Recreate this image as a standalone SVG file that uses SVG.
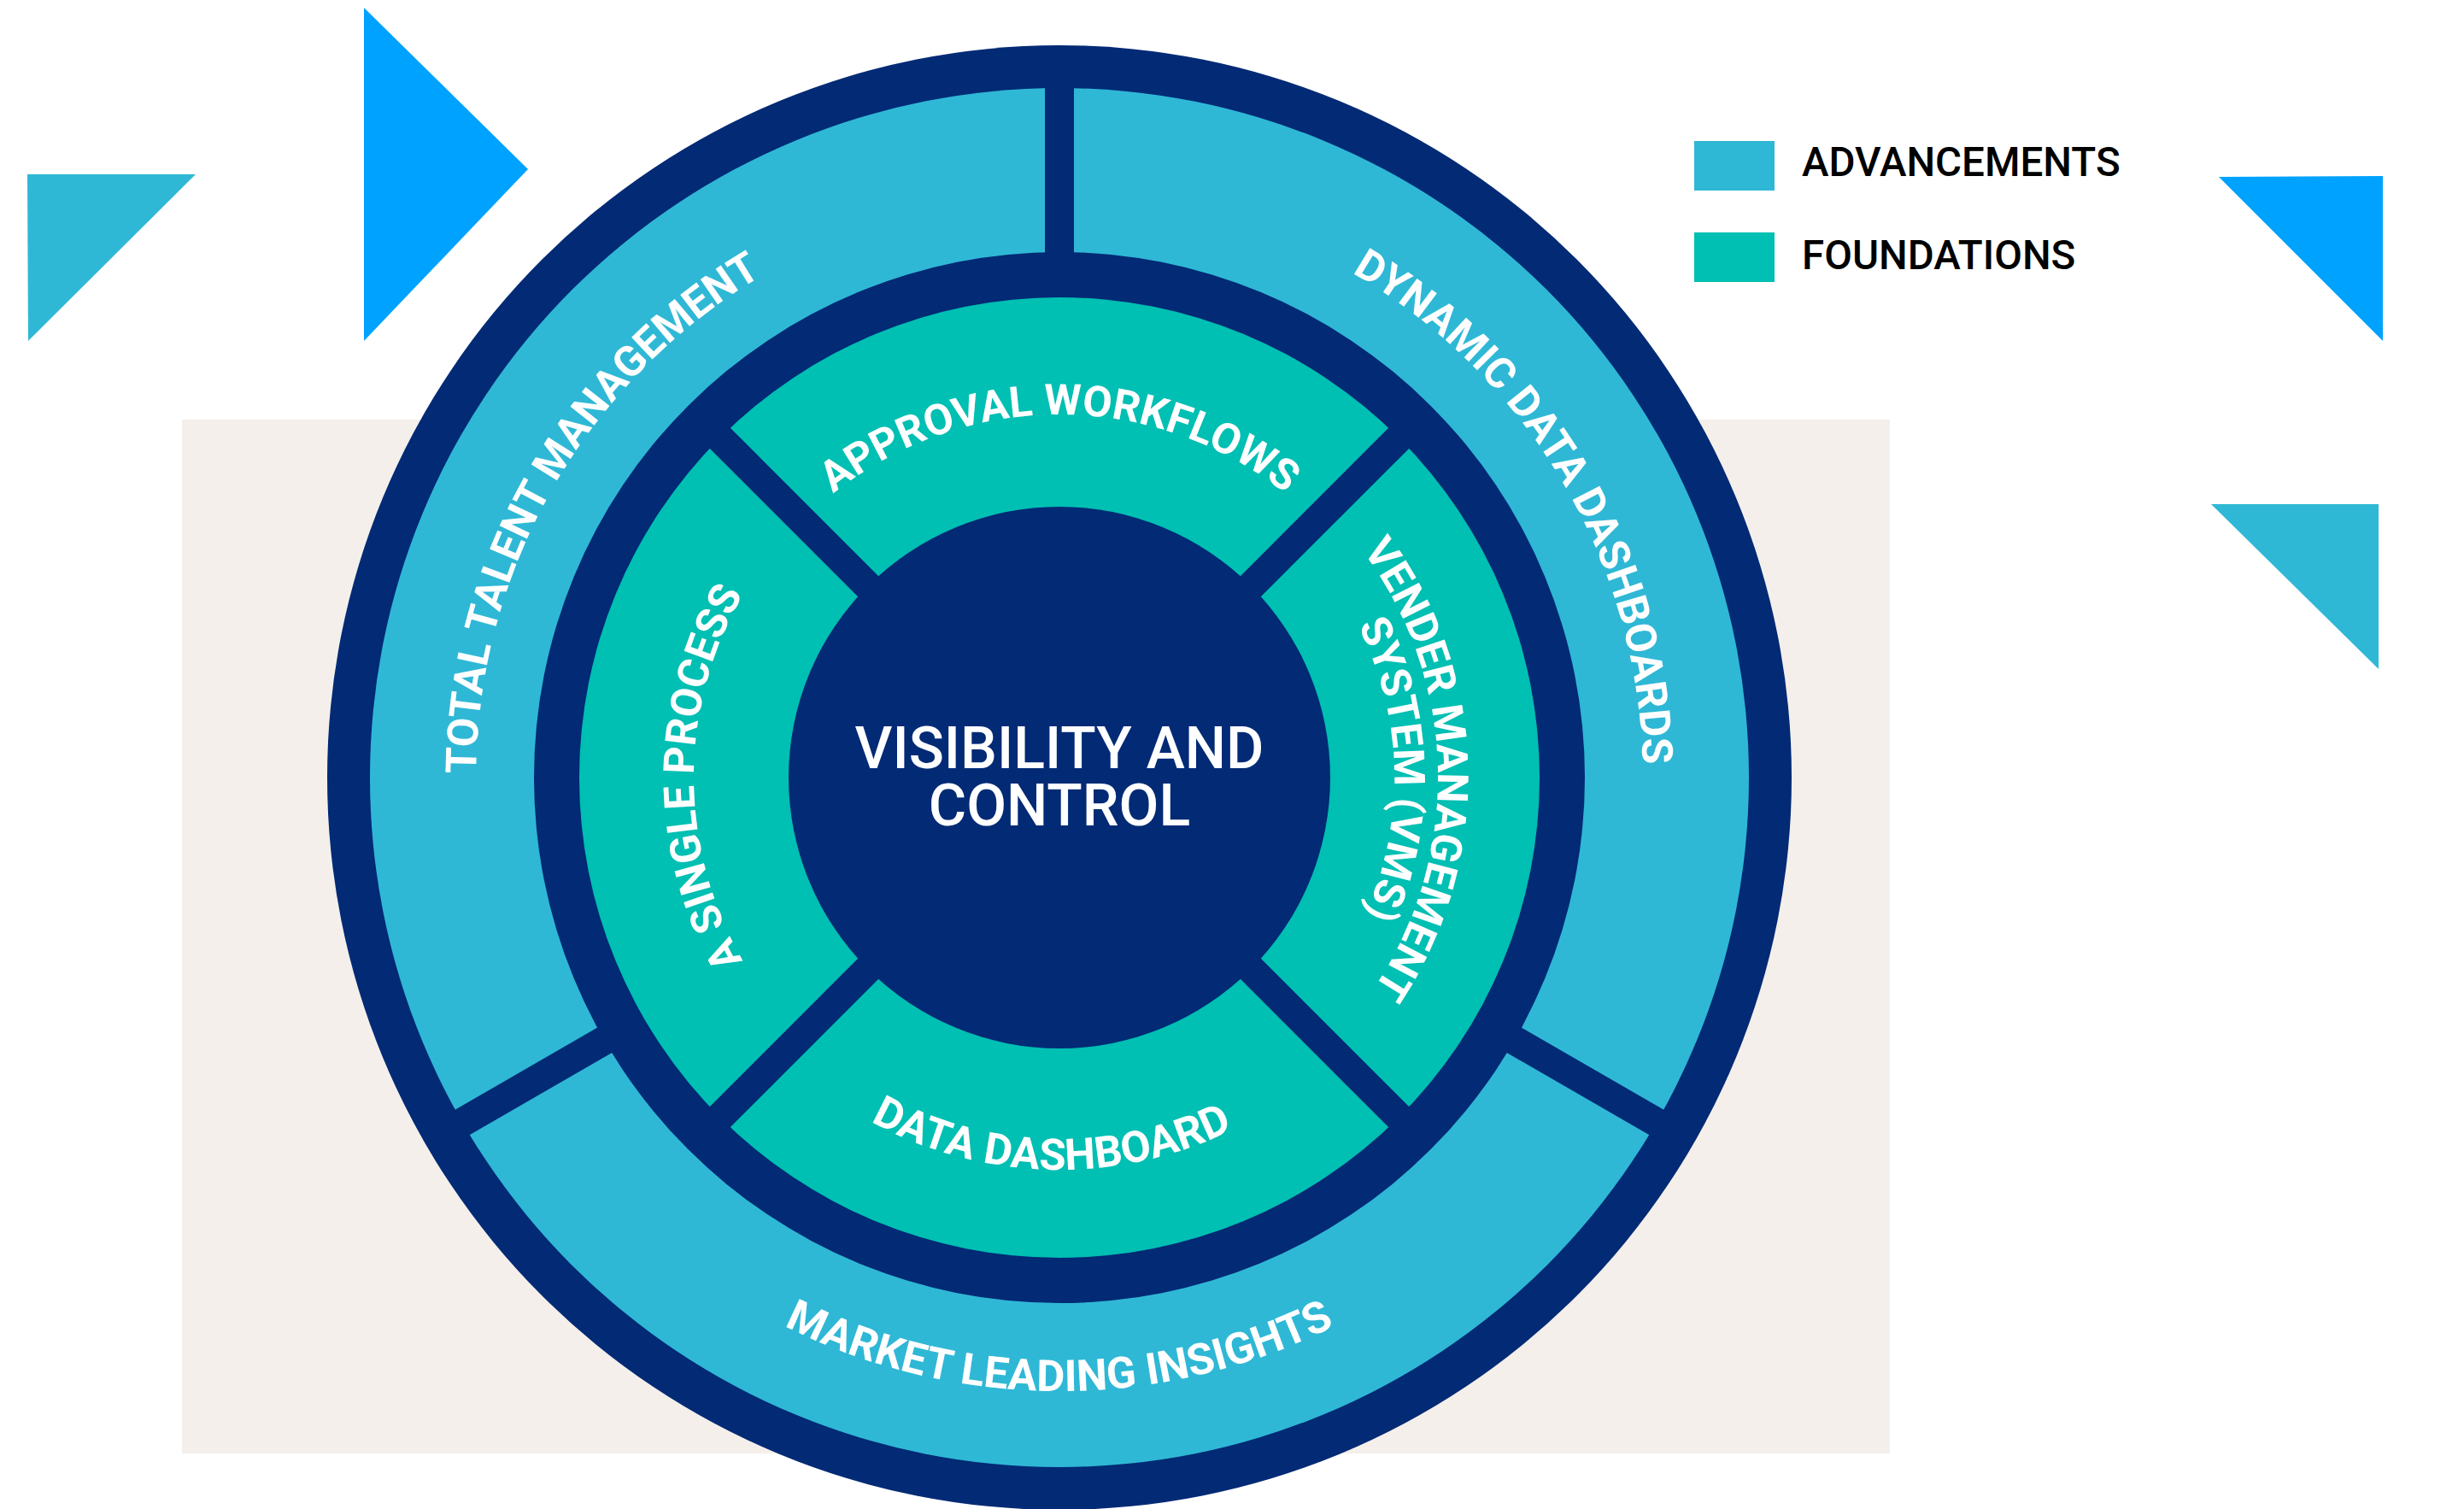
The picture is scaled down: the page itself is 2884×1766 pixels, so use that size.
<svg xmlns="http://www.w3.org/2000/svg" width="2884" height="1766" viewBox="0 0 2884 1766">
  <style>
    .navy{fill:#022a75}
    .lb{fill:#2fb8d6}
    .teal{fill:#00bfb3}
    .blue{fill:#00a2ff}
    .div{stroke:#022a75;stroke-width:34;fill:none}
    .lbl{font-family:Roboto,"Liberation Sans",sans-serif;font-weight:700;fill:#ffffff}
    .in{font-size:50px}
    .out{font-size:50px}
    .ctr{font-family:Roboto,"Liberation Sans",sans-serif;font-weight:500;font-size:68px;fill:#ffffff;text-anchor:middle}
    .leg{font-family:Roboto,"Liberation Sans",sans-serif;font-weight:500;font-size:47.5px;fill:#000000}
  </style>
  <defs>
    <path id="pApproval" d="M 815 910 A 425 425 0 0 1 1665 910"/>
    <path id="pSingle" d="M 1240 1338 A 428 428 0 0 1 1240 482"/>
    <path id="pVms1" d="M 1240 467 A 443 443 0 0 1 1240 1353"/>
    <path id="pVms2" d="M 1240 518 A 392 392 0 0 1 1240 1302"/>
    <path id="pData" d="M 781 910 A 459 459 0 0 0 1699 910"/>
    <path id="pTotal" d="M 1240 1593 A 683 683 0 0 1 1240 227"/>
    <path id="pDynamic" d="M 1240 227 A 683 683 0 0 1 1240 1593"/>
    <path id="pMarket" d="M 522 910 A 718 718 0 0 0 1958 910"/>
  </defs>

  <rect width="2884" height="1766" fill="#ffffff"/>
  <g id="background">
    <rect x="213" y="491" width="1999" height="1210" fill="#f4efeb"/>
  </g>

  <g id="decor">
    <polygon class="lb" points="32,204 229,204 33,399"/>
    <polygon class="blue" points="426,9 618,198 426,399"/>
    <polygon class="blue" points="2597,207 2789,206 2789,399"/>
    <polygon class="lb" points="2588,590 2784,590 2784,783"/>
  </g>

  <g id="legend">
    <rect class="lb" x="1983" y="165" width="94" height="58"/>
    <text class="leg" x="2109" y="206">ADVANCEMENTS</text>
    <rect class="teal" x="1983" y="272" width="94" height="58"/>
    <text class="leg" x="2109" y="315">FOUNDATIONS</text>
  </g>

  <g id="wheel">
    <circle class="navy" cx="1240" cy="910" r="857"/>
    <circle class="lb" cx="1240" cy="910" r="807"/>
    <circle class="navy" cx="1240" cy="910" r="615"/>
    <circle class="teal" cx="1240" cy="910" r="562"/>
    <circle class="navy" cx="1240" cy="910" r="317"/>
  </g>

  <g id="connectors">
    <line class="div" x1="1240" y1="310" x2="1240" y2="80"/>
    <line class="div" x1="720.4" y1="1210" x2="521.2" y2="1325"/>
    <line class="div" x1="1759.6" y1="1210" x2="1958.8" y2="1325"/>
    <line class="div" x1="1452.1" y1="1122.1" x2="1650.1" y2="1320.1"/>
    <line class="div" x1="1027.9" y1="1122.1" x2="829.9" y2="1320.1"/>
    <line class="div" x1="1027.9" y1="697.9" x2="829.9" y2="499.9"/>
    <line class="div" x1="1452.1" y1="697.9" x2="1650.1" y2="499.9"/>
  </g>

  <g id="center">
    <text class="ctr" x="1240" y="899">VISIBILITY AND</text>
    <text class="ctr" x="1240" y="966">CONTROL</text>
  </g>

  <g id="approval-workflows">
    <text class="lbl in" text-anchor="middle"><textPath href="#pApproval" startOffset="50%">APPROVAL WORKFLOWS</textPath></text>
  </g>
  <g id="a-single-process">
    <text class="lbl in" text-anchor="middle"><textPath href="#pSingle" startOffset="50%">A SINGLE PROCESS</textPath></text>
  </g>
  <g id="vender-management-system">
    <text class="lbl in" text-anchor="middle"><textPath href="#pVms1" startOffset="49.2%">VENDER MANAGEMENT</textPath></text>
    <text class="lbl in" text-anchor="middle"><textPath href="#pVms2" startOffset="49.2%">SYSTEM (VMS)</textPath></text>
  </g>
  <g id="data-dashboard">
    <text class="lbl" font-size="51" text-anchor="middle"><textPath href="#pData" startOffset="49.3%">DATA DASHBOARD</textPath></text>
  </g>
  <g id="total-talent-management">
    <text class="lbl out" text-anchor="middle"><textPath href="#pTotal" startOffset="66.6%">TOTAL TALENT MANAGEMENT</textPath></text>
  </g>
  <g id="dynamic-data-dashboards">
    <text class="lbl out" text-anchor="middle"><textPath href="#pDynamic" startOffset="33.0%">DYNAMIC DATA DASHBOARDS</textPath></text>
  </g>
  <g id="market-leading-insights">
    <text class="lbl" font-size="51" text-anchor="middle"><textPath href="#pMarket" startOffset="50%">MARKET LEADING INSIGHTS</textPath></text>
  </g>
</svg>
